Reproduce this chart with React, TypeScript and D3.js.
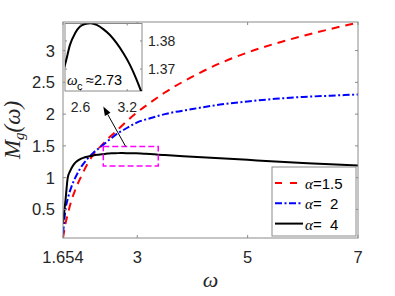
import React from 'react'
import * as d3 from 'd3'

// omega grid shared by the alpha=1.5 and alpha=2 curves
const omega = [1.654, 1.7, 1.75, 1.8, 1.9, 2.0, 2.1, 2.2, 2.3, 2.4, 2.5, 2.63, 2.75, 3.0, 3.25, 3.5, 4.0, 4.5, 5.0, 5.5, 6.0, 6.5, 7.0]
const mAlpha15 = [0.05, 0.28, 0.46, 0.62, 0.86, 1.05, 1.22, 1.36, 1.46, 1.55, 1.64, 1.74, 1.84, 2.03, 2.19, 2.34, 2.59, 2.80, 2.97, 3.11, 3.23, 3.34, 3.44]
const mAlpha2 = [0.12, 0.50, 0.70, 0.84, 1.04, 1.19, 1.30, 1.39, 1.46, 1.53, 1.60, 1.69, 1.75, 1.87, 1.94, 2.00, 2.08, 2.15, 2.20, 2.24, 2.27, 2.29, 2.31]

// alpha=4 has its own (finer near the peak) grid
const omega4 = [1.654, 1.7, 1.74, 1.78, 1.85, 1.95, 2.05, 2.2, 2.3, 2.413, 2.464, 2.529, 2.593, 2.657, 2.73, 2.807, 2.892, 2.978, 3.064, 3.149, 3.235, 3.312, 3.376, 3.5, 4.0, 4.5, 5.0, 5.5, 6.0, 6.5, 7.0]
const mAlpha4 = [0.28, 0.65, 1.0, 1.10, 1.21, 1.285, 1.32, 1.35, 1.362, 1.3729, 1.3786, 1.3827, 1.3851, 1.386, 1.3863, 1.3857, 1.3842, 1.3821, 1.3792, 1.3757, 1.3715, 1.3668, 1.3623, 1.355, 1.33, 1.305, 1.28, 1.255, 1.232, 1.21, 1.19]

const xTicks = [1.654, 3, 5, 7]
const xTickLabels = ['1.654', '3', '5', '7']
const yTicks = [0.5, 1, 1.5, 2, 2.5, 3]
const yTickLabels = ['0.5', '1', '1.5', '2', '2.5', '3']

const insetXTicks = [2.6, 3.2]
const insetXLabels = ['2.6', '3.2']
const insetYTicks = [1.37, 1.38]
const insetYLabels = ['1.37', '1.38']

// zoom box and arrow, data units
const zoomBox = { x0: 2.384, x1: 3.38, y0: 1.185, y1: 1.49 }
const arrow = { from: [2.79, 1.49], to: [2.384, 2.12] }

const legendItems = [
    { num: '1.5', color: '#ff0000', dash: '7,8' },
    { num: '  2', color: '#0000ff', dash: '7,2.5,2,2.5' },
    { num: '  4', color: '#000000', dash: null },
]

const W = 395, H = 296
const axisColor = '#8a8a8a'
const textColor = '#262626'
const sans = 'Liberation Sans, Arial, sans-serif'
const serif = 'Liberation Serif, Times New Roman, serif'

const App = () => {
    const x = d3.scaleLinear().domain([1.654, 7]).range([63, 358])
    const y = d3.scaleLinear().domain([0.05, 3.45]).range([238, 22])

    const ix = d3.scaleLinear().domain([2.4, 3.39]).range([65, 142])
    const iy = d3.scaleLinear().domain([1.3622, 1.3862]).range([91, 23.5])

    const mainLine = d3.line<[number, number]>()
        .x(d => x(d[0])).y(d => y(d[1]))
        .curve(d3.curveMonotoneX)
    const insetLine = d3.line<[number, number]>()
        .x(d => ix(d[0])).y(d => iy(d[1]))
        .curve(d3.curveMonotoneX)

    const red = omega.map((w, i) => [w, mAlpha15[i]] as [number, number])
    const blue = omega.map((w, i) => [w, mAlpha2[i]] as [number, number])
    const black = omega4.map((w, i) => [w, mAlpha4[i]] as [number, number])

    const [x0, x1] = x.range()
    const [y0, y1] = y.range()
    const tl = 3

    // arrow geometry
    const ax1 = x(arrow.from[0]), ay1 = y(arrow.from[1])
    const ax2 = x(arrow.to[0]), ay2 = y(arrow.to[1])
    const ang = Math.atan2(ay2 - ay1, ax2 - ax1)
    const hl = 9, hw = 3.2
    const bx = ax2 - hl * Math.cos(ang), by = ay2 - hl * Math.sin(ang)
    const head = `M${ax2},${ay2} L${bx + hw * Math.sin(ang)},${by - hw * Math.cos(ang)} L${bx - hw * Math.sin(ang)},${by + hw * Math.cos(ang)} Z`

    return (
        <svg width={W} height={H} style={{ position: 'absolute', left: 0, top: 0, background: '#fff' }}>
            <defs>
                <clipPath id="plotClip">
                    <rect x={x0} y={y1} width={x1 - x0} height={y0 - y1} />
                </clipPath>
                <clipPath id="insetClip">
                    <rect x={ix.range()[0]} y={iy.range()[1]} width={ix.range()[1] - ix.range()[0]} height={iy.range()[0] - iy.range()[1]} />
                </clipPath>
            </defs>
            <rect width={W} height={H} fill="#fff" />

            {/* curves */}
            <g clipPath="url(#plotClip)" fill="none" strokeWidth={2}>
                <path d={mainLine(red) || ''} stroke="#ff0000" strokeDasharray="8,6" />
                <path d={mainLine(blue) || ''} stroke="#0000ff" strokeDasharray="7,2.5,2,2.5" />
                <path d={mainLine(black) || ''} stroke="#000" />
            </g>

            {/* zoom box + arrow */}
            <rect x={x(zoomBox.x0)} y={y(zoomBox.y1)} width={x(zoomBox.x1) - x(zoomBox.x0)} height={y(zoomBox.y0) - y(zoomBox.y1)}
                fill="none" stroke="#ff00ff" strokeWidth={1.5} strokeDasharray="6,3" />
            <line x1={ax1} y1={ay1} x2={bx} y2={by} stroke="#000" strokeWidth={1} />
            <path d={head} fill="#000" />

            {/* axes box */}
            <rect x={x0} y={y1} width={x1 - x0} height={y0 - y1} fill="none" stroke={axisColor} strokeWidth={1} />
            {xTicks.map((t, i) => (
                <g key={'xt' + i}>
                    <line x1={x(t)} x2={x(t)} y1={y0} y2={y0 - tl} stroke={axisColor} />
                    <line x1={x(t)} x2={x(t)} y1={y1} y2={y1 + tl} stroke={axisColor} />
                    <text x={x(t)} y={263} textAnchor="middle" fontFamily={sans} fontSize={16.5} fill={textColor}>{xTickLabels[i]}</text>
                </g>
            ))}
            {yTicks.map((t, i) => (
                <g key={'yt' + i}>
                    <line x1={x0} x2={x0 + tl} y1={y(t)} y2={y(t)} stroke={axisColor} />
                    <line x1={x1} x2={x1 - tl} y1={y(t)} y2={y(t)} stroke={axisColor} />
                    <text x={55} y={y(t) + 6} textAnchor="end" fontFamily={sans} fontSize={16.5} fill={textColor}>{yTickLabels[i]}</text>
                </g>
            ))}

            {/* axis labels */}
            <text transform="translate(20,130) rotate(-90)" textAnchor="middle" fontFamily={serif} fontStyle="italic" fontSize={23} fill={textColor}>
                M<tspan fontSize={15} dy={4}>g</tspan><tspan dy={-4}>(ω)</tspan>
            </text>
            <text x={(x0 + x1) / 2} y={287} textAnchor="middle" fontFamily={serif} fontStyle="italic" fontSize={22} fill={textColor}>ω</text>

            {/* inset */}
            <rect x={ix.range()[0]} y={iy.range()[1]} width={ix.range()[1] - ix.range()[0]} height={iy.range()[0] - iy.range()[1]} fill="#fff" stroke={axisColor} />
            <path d={insetLine(black) || ''} clipPath="url(#insetClip)" fill="none" stroke="#000" strokeWidth={2} />
            {insetXTicks.map((t, i) => (
                <g key={'ixt' + i}>
                    <line x1={ix(t)} x2={ix(t)} y1={iy.range()[0]} y2={iy.range()[0] - 2} stroke={axisColor} />
                    <line x1={ix(t)} x2={ix(t)} y1={iy.range()[1]} y2={iy.range()[1] + 2} stroke={axisColor} />
                    <text x={ix(t)} y={111.5} textAnchor="middle" fontFamily={sans} fontSize={14} fill={textColor}>{insetXLabels[i]}</text>
                </g>
            ))}
            {insetYTicks.map((t, i) => (
                <g key={'iyt' + i}>
                    <line x1={ix.range()[0]} x2={ix.range()[0] + 2} y1={iy(t)} y2={iy(t)} stroke={axisColor} />
                    <line x1={ix.range()[1]} x2={ix.range()[1] - 2} y1={iy(t)} y2={iy(t)} stroke={axisColor} />
                    <text x={148} y={iy(t) + 5} fontFamily={sans} fontSize={14} fill={textColor}>{insetYLabels[i]}</text>
                </g>
            ))}
            <text x={67} y={85} fontFamily={serif} fontStyle="italic" fontSize={15} fill="#000">ω</text>
            <text x={77} y={90} fontFamily={sans} fontSize={11} fill="#000">c</text>
            <text x={86} y={85} fontFamily={sans} fontSize={14.5} fill="#000">≈2.73</text>

            {/* legend */}
            <rect x={272} y={167} width={84} height={69} fill="#fff" stroke={axisColor} />
            {legendItems.map((it, i) => {
                const ly = 183 + i * 20.3
                return (
                    <g key={'lg' + i}>
                        <line x1={275} x2={303} y1={ly} y2={ly} stroke={it.color} strokeWidth={2}
                            strokeDasharray={it.dash || undefined} />
                        <text x={305} y={ly + 6} fontSize={15} fill="#000" style={{ whiteSpace: 'pre' }}>
                            <tspan fontFamily={serif} fontStyle="italic">α</tspan>
                            <tspan fontFamily={sans}>{'=' + it.num}</tspan>
                        </text>
                    </g>
                )
            })}
        </svg>
    )
}

export default App
